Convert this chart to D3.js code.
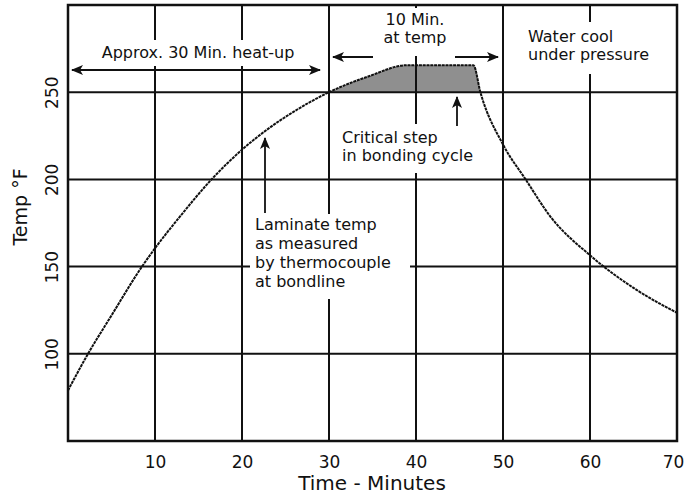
<!DOCTYPE html>
<html>
<head>
<meta charset="utf-8">
<script src="https://cdn.jsdelivr.net/npm/d3@7"></script>
<style>
  body { margin: 0; background: #fff; }
  text { font-family: "DejaVu Sans", sans-serif; fill: #111; }
</style>
</head>
<body>
<div id="chart-area"></div>
<script>
// DATA
let minutes = [0, 2.3, 5, 8.5, 10, 13, 16.5, 20, 23, 26, 30, 34.5, 39, 46.6, 47.4, 50, 52.6, 55.4, 60, 65.4, 70]
let temps = [79, 100, 122, 150, 160.5, 179.5, 200, 217, 229, 239, 250, 259, 265.5, 265.5, 250, 220, 200, 179, 156.5, 136.5, 123.5]
let xTicks = [10, 20, 30, 40, 50, 60, 70]
let yTicks = [100, 150, 200, 250]
let xGrid = [10, 20, 30, 40, 50, 60]
let yGrid = [100, 150, 200, 250]
let holdStart = 30
let holdEnd = 47.4
let holdBase = 250

let width = 684
let height = 496
let margin = { top: 5, right: 7, bottom: 55, left: 68 }

let svg = d3.select('#chart-area').append('svg')
	.attr('width', width)
	.attr('height', height)

let x = d3.scaleLinear()
	.domain([0, 70])
	.range([margin.left, width - margin.right])

let y = d3.scaleLinear()
	.domain([50, 300])
	.range([height - margin.bottom, margin.top])

let points = minutes.map((m, i) => ({ t: m, v: temps[i] }))

let defs = svg.append('defs')
defs.append('marker')
	.attr('id', 'head')
	.attr('viewBox', '0 0 12 10')
	.attr('refX', 11)
	.attr('refY', 5)
	.attr('markerWidth', 12)
	.attr('markerHeight', 10)
	.attr('markerUnits', 'userSpaceOnUse')
	.attr('orient', 'auto-start-reverse')
	.append('path')
	.attr('d', 'M0,0 L12,5 L0,10 L3,5 Z')
	.attr('fill', '#111')

// shaded hold period
let area = d3.area()
	.x(d => x(d.t))
	.y0(y(holdBase))
	.y1(d => y(d.v))
	.curve(d3.curveMonotoneX)

svg.append('path')
	.datum(points.filter(d => d.t >= holdStart && d.t <= holdEnd))
	.attr('d', area)
	.attr('fill', '#8f8f8f')

// GRID
let grid = svg.append('g')
	.attr('stroke', '#111')
	.attr('stroke-width', 2)

grid.selectAll('.vx')
	.data(xGrid)
	.enter().append('line')
	.attr('x1', d => x(d)).attr('x2', d => x(d))
	.attr('y1', y(300)).attr('y2', y(50))

grid.selectAll('.hy')
	.data(yGrid)
	.enter().append('line')
	.attr('x1', x(0)).attr('x2', x(70))
	.attr('y1', d => y(d)).attr('y2', d => y(d))

// white knockouts behind the notes
let knockouts = [
	[95, 40, 205, 26],
	[374, 8, 84, 48],
	[522, 22, 140, 52],
	[338, 124, 106, 49],
	[250, 214, 160, 85]
]
svg.append('g').selectAll('rect')
	.data(knockouts)
	.enter().append('rect')
	.attr('x', d => d[0]).attr('y', d => d[1])
	.attr('width', d => d[2]).attr('height', d => d[3])
	.attr('fill', '#fff')

// frame
svg.append('rect')
	.attr('x', x(0))
	.attr('y', y(300))
	.attr('width', x(70) - x(0))
	.attr('height', y(50) - y(300))
	.attr('fill', 'none')
	.attr('stroke', '#111')
	.attr('stroke-width', 2.5)

// curve
let line = d3.line()
	.x(d => x(d.t))
	.y(d => y(d.v))
	.curve(d3.curveMonotoneX)

svg.append('path')
	.datum(points)
	.attr('d', line)
	.attr('fill', 'none')
	.attr('stroke', '#111')
	.attr('stroke-width', 2)
	.attr('stroke-dasharray', '3,0.8')

// AXES
let xAxisGroup = svg.append('g')
	.attr('transform', 'translate(0, ' + y(50) + ')')
	.call(d3.axisBottom(x).tickValues(xTicks).tickSize(0).tickPadding(15))
xAxisGroup.select('.domain').remove()
xAxisGroup.selectAll('text')
	.attr('font-size', 17)
	.attr('font-family', '"DejaVu Sans", sans-serif')
	.attr('fill', '#111')
	.attr('dx', d => d == 70 ? -4 : 0)

let yAxisGroup = svg.append('g')
	.attr('transform', 'translate(' + x(0) + ', 0)')
	.call(d3.axisLeft(y).tickValues(yTicks).tickSize(0))
yAxisGroup.select('.domain').remove()
yAxisGroup.selectAll('text')
	.attr('font-size', 17)
	.attr('font-family', '"DejaVu Sans", sans-serif')
	.attr('fill', '#111')
	.attr('text-anchor', 'middle')
	.attr('transform', 'translate(-16, 0) rotate(-90)')
	.attr('x', 0)
	.attr('dy', '0.35em')

svg.append('text')
	.attr('x', 372)
	.attr('y', 490)
	.attr('text-anchor', 'middle')
	.attr('font-size', 20)
	.text('Time - Minutes')

svg.append('text')
	.attr('transform', 'translate(27, 207) rotate(-90)')
	.attr('text-anchor', 'middle')
	.attr('font-size', 19)
	.text('Temp °F')

// NOTES
let notes = [
	{ x: 198, y: 58, anchor: 'middle', lines: ['Approx. 30 Min. heat-up'], gap: 0 },
	{ x: 415, y: 25, anchor: 'middle', lines: ['10 Min.', 'at temp'], gap: 18 },
	{ x: 528, y: 42, anchor: 'start', lines: ['Water cool', 'under pressure'], gap: 18 },
	{ x: 342, y: 143, anchor: 'start', lines: ['Critical step', 'in bonding cycle'], gap: 18 },
	{ x: 255, y: 230, anchor: 'start', lines: ['Laminate temp', 'as measured', 'by thermocouple', 'at bondline'], gap: 19 }
]
notes.forEach(n => {
	let t = svg.append('text')
		.attr('x', n.x)
		.attr('y', n.y)
		.attr('text-anchor', n.anchor)
		.attr('font-size', 16)
	n.lines.forEach((l, i) => {
		t.append('tspan').attr('x', n.x).attr('y', n.y + i * n.gap).text(l)
	})
})

let arrows = [
	{ x1: 72, y1: 70, x2: 320, y2: 70, both: true },
	{ x1: 373, y1: 57, x2: 333, y2: 57 },
	{ x1: 455, y1: 57, x2: 498, y2: 57 },
	{ x1: 457, y1: 126, x2: 457, y2: 97 },
	{ x1: 265, y1: 213, x2: 265, y2: 138 }
]
svg.append('g').selectAll('line')
	.data(arrows)
	.enter().append('line')
	.attr('x1', d => d.x1).attr('y1', d => d.y1)
	.attr('x2', d => d.x2).attr('y2', d => d.y2)
	.attr('stroke', '#111')
	.attr('stroke-width', 1.8)
	.attr('marker-end', 'url(#head)')
	.attr('marker-start', d => d.both ? 'url(#head)' : null)
</script>
</body>
</html>
